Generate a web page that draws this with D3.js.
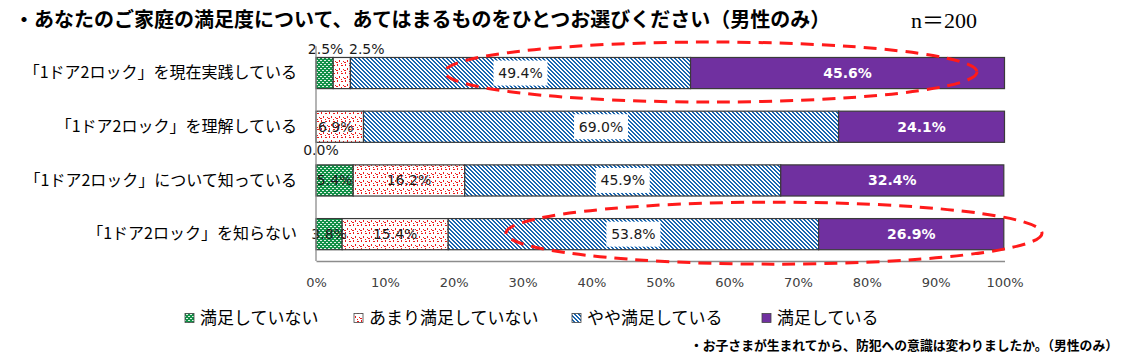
<!DOCTYPE html>
<html><head><meta charset="utf-8">
<script src="https://cdn.jsdelivr.net/npm/d3@7"></script>
<style>
body{margin:0;background:#fff;}
svg{display:block;}
</style></head>
<body>
<svg id="c" width="1125" height="358"></svg>
<script>
const categories = ["「1ドア2ロック」を現在実践している","「1ドア2ロック」を理解している","「1ドア2ロック」について知っている","「1ドア2ロック」を知らない"];
const seriesNames = ["満足していない","あまり満足していない","やや満足している","満足している"];
const notSatisfied   = [2.5, 0.0, 5.4, 3.8];
const notVery        = [2.5, 6.9, 16.2, 15.4];
const somewhat       = [49.4, 69.0, 45.9, 53.8];
const satisfied      = [45.6, 24.1, 32.4, 26.9];
const tickValues = [0,10,20,30,40,50,60,70,80,90,100];
const title = "・あなたのご家庭の満足度について、あてはまるものをひとつお選びください（男性のみ）";
const nText = "n＝200";
const footer = "・お子さまが生まれてから、防犯への意識は変わりましたか。（男性のみ）";

const series = [notSatisfied, notVery, somewhat, satisfied];
const svg = d3.select("#c");
const defs = svg.append("defs");

// patterns
const pg = defs.append("pattern").attr("id","pGreen").attr("patternUnits","userSpaceOnUse").attr("width",4).attr("height",4);
pg.append("rect").attr("width",4).attr("height",4).attr("fill","#129148");
pg.append("rect").attr("x",0).attr("y",0).attr("width",2).attr("height",1).attr("fill","#e0f2e6");
pg.append("rect").attr("x",2).attr("y",2).attr("width",2).attr("height",1).attr("fill","#e0f2e6");

const pr = defs.append("pattern").attr("id","pRed").attr("patternUnits","userSpaceOnUse").attr("width",8).attr("height",8);
pr.append("rect").attr("width",8).attr("height",8).attr("fill","#fff");
[[1,0,1,2],[5,1,2,1],[3,4,1,2],[7,5,1,1],[0,6,2,1],[5,7,1,1]].forEach(p=>{
  pr.append("rect").attr("x",p[0]).attr("y",p[1]).attr("width",p[2]).attr("height",p[3]).attr("fill","#ee1c1c");
});

const pb = defs.append("pattern").attr("id","pBlue").attr("patternUnits","userSpaceOnUse").attr("width",4).attr("height",4);
pb.append("rect").attr("width",4).attr("height",4).attr("fill","#fff");
for(let r=0;r<4;r++){
  pb.append("rect").attr("x",r).attr("y",r).attr("width",1).attr("height",1).attr("fill","#1a66b0");
  pb.append("rect").attr("x",(r+1)%4).attr("y",r).attr("width",1).attr("height",1).attr("fill","#1a66b0");
}

const fills = ["url(#pGreen)","url(#pRed)","url(#pBlue)","#7030a0"];

const x = d3.scaleLinear().domain([0,100]).range([316,1004.5]);
const y = d3.scaleBand().domain(categories).range([46.2,261]).paddingInner(0.42).paddingOuter(0.21);

// title
svg.append("text").attr("x",14).attr("y",27).attr("font-family","'Noto Sans CJK JP'").attr("font-weight",700).attr("font-size",20).attr("fill","#000").text(title);
svg.append("text").attr("x",911).attr("y",28).attr("font-family","'Liberation Serif','Noto Sans CJK JP'").attr("font-size",22).attr("fill","#000").text(nText);

// stacked data
const rows = categories.map((c,i)=>{
  let acc=0;
  return series.map((s,k)=>{const d={cat:c,k:k,v:s[i],x0:acc,x1:acc+s[i],row:i}; acc+=s[i]; return d;});
});

const g = svg.append("g");
rows.forEach(r=>{
  g.selectAll(null).data(r.filter(d=>d.v>0)).enter().append("rect")
   .attr("x",d=>x(d.x0)).attr("y",d=>y(d.cat)).attr("width",d=>x(d.x1)-x(d.x0)).attr("height",y.bandwidth())
   .attr("fill",d=>fills[d.k]).attr("stroke","#3a3a3a").attr("stroke-width",1.2);
});

// axes
const xa = svg.append("g").attr("transform","translate(0,261)").call(d3.axisBottom(x).tickValues(tickValues).tickSize(0).tickPadding(17).tickFormat(d=>d+"%"));
xa.select(".domain").attr("stroke","#8c8c8c").attr("stroke-width",1.3);
xa.selectAll("text").attr("font-family","'DejaVu Sans'").attr("font-size",13).attr("fill","#404040");

const ya = svg.append("g").attr("transform","translate(316,0)").call(d3.axisLeft(y).tickSize(0).tickPadding(19));
ya.select(".domain").attr("stroke","#8c8c8c").attr("stroke-width",1.3).attr("d","M0,46.2V261");
ya.selectAll("text").attr("font-family","'Noto Sans CJK JP'").attr("font-size",16).attr("fill","#000");

// labels
const labelFont = "'DejaVu Sans'";
rows.forEach(r=>{
  r.forEach(d=>{
    let cx = (x(d.x0)+x(d.x1))/2;
    let cy = y(d.cat)+y.bandwidth()/2;
    if(d.row===0 && d.k===0){cy = y(d.cat)-9; cx = cx+1;}
    if(d.row===0 && d.k===1){cy = y(d.cat)-9; cx = cx+25;}
    if(d.row===1 && d.k===0){cy = y(d.cat)+y.bandwidth()+8; cx = cx+5;}
    if(d.row===1 && d.k===1){cx = cx-4;}
    const txt = d.v.toFixed(1)+"%";
    if(d.k===2){
      const w = 54;
      g.append("rect").attr("x",cx-w/2).attr("y",cy-12.5).attr("width",w).attr("height",25).attr("fill","#fff");
    }
    g.append("text").attr("x",cx).attr("y",cy).attr("dy","0.36em").attr("text-anchor","middle")
     .attr("font-family",labelFont).attr("font-size",14)
     .attr("font-weight",d.k===3?700:400)
     .attr("fill",d.k===3?"#fff":"#1a1a1a").text(txt);
  });
});

// red dashed ellipses
const ell = [{row:0,cx:711,rx:266,ry:30},{row:3,cx:774,rx:268,ry:31}];
ell.forEach(e=>{
  svg.append("ellipse").attr("cx",e.cx).attr("cy",y(categories[e.row])+y.bandwidth()/2-1).attr("rx",e.rx).attr("ry",e.ry)
   .attr("fill","none").attr("stroke","#ff1a1a").attr("stroke-width",3).attr("stroke-dasharray","13,8");
});

// legend
const legX = [200,369,587,777];
const lg = svg.append("g");
seriesNames.forEach((n,i)=>{
  lg.append("rect").attr("x",legX[i]-15).attr("y",313.5).attr("width",9).attr("height",9).attr("fill",fills[i]).attr("stroke","#444").attr("stroke-width",0.8);
  lg.append("text").attr("x",legX[i]).attr("y",318).attr("dy","0.36em").attr("font-family","'Noto Sans CJK JP'").attr("font-size",17).attr("fill","#000").text(n);
});

// footer
svg.append("text").attr("x",1118).attr("y",350).attr("text-anchor","end").attr("font-family","'Noto Sans CJK JP'").attr("font-weight",700).attr("font-size",12.8).attr("fill","#000").text(footer);
</script>
</body></html>
